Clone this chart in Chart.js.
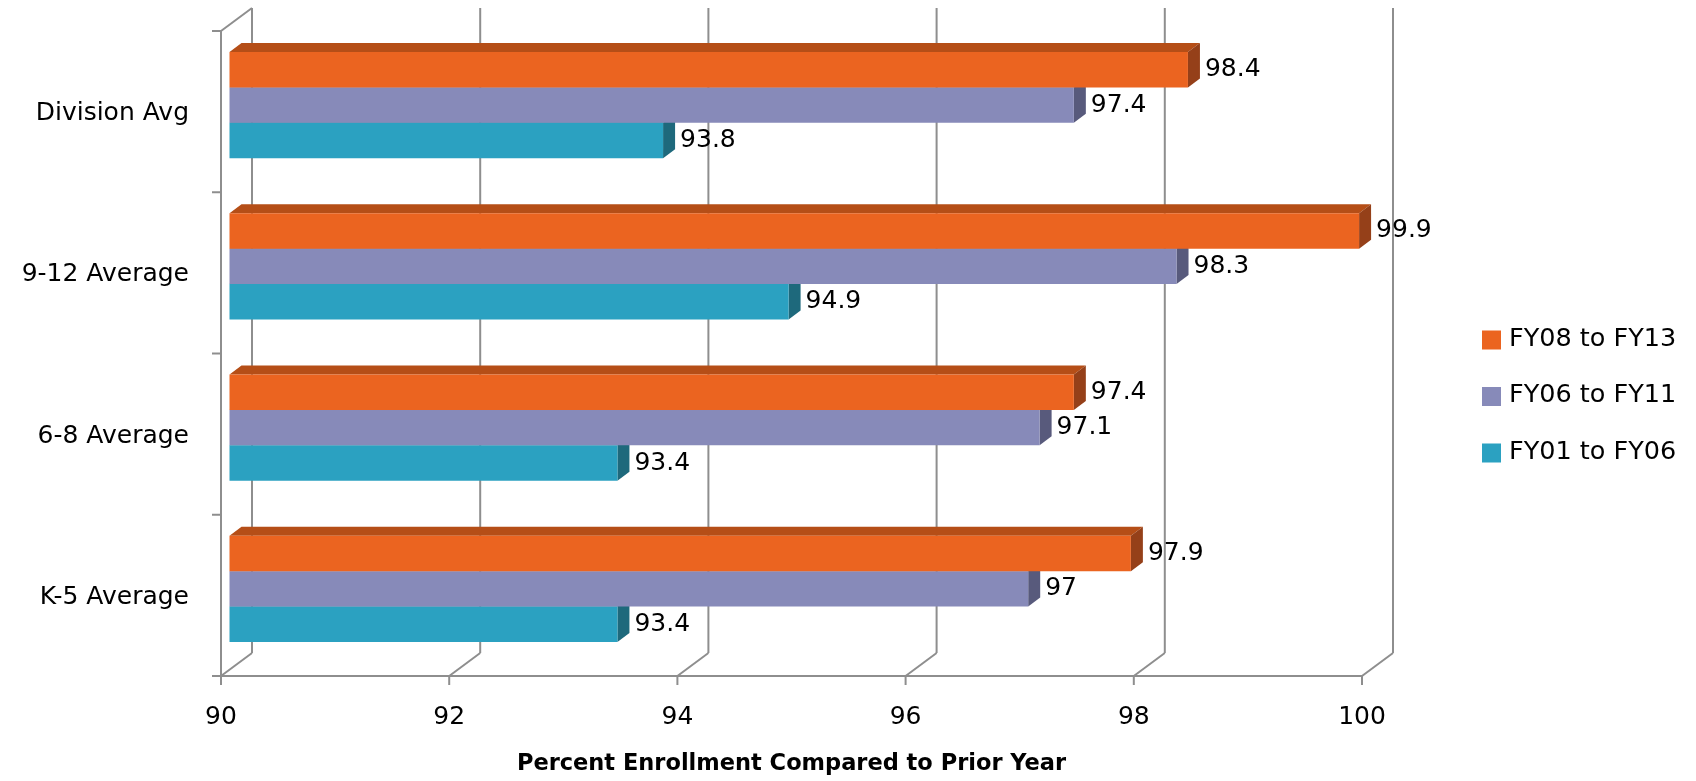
<!DOCTYPE html>
<html>
<head>
<meta charset="utf-8">
<script src="https://cdn.jsdelivr.net/npm/chart.js@4/dist/chart.umd.min.js"></script>
<style>
  html, body { margin: 0; padding: 0; background: #ffffff; }
  #wrap { width: 1696px; height: 781px; position: relative; }
</style>
</head>
<body>
<div id="wrap"><canvas id="c" width="1696" height="781"></canvas></div>
<script>
// ---- data ----
const categories = ['Division Avg', '9-12 Average', '6-8 Average', 'K-5 Average'];
const seriesNames = ['FY08 to FY13', 'FY06 to FY11', 'FY01 to FY06'];
const fy08to13 = [98.4, 99.9, 97.4, 97.9];
const fy06to11 = [97.4, 98.3, 97.1, 97];
const fy01to06 = [93.8, 94.9, 93.4, 93.4];
const xTicks = [90, 92, 94, 96, 98, 100];
const axisTitle = 'Percent Enrollment Compared to Prior Year';

// ---- styles ----
const FONT = '"DejaVu Sans", sans-serif';
const GRID = '#8e8e8e';
const faceColors = ['#EB6420', '#878AB9', '#2BA1C1'];
const topColors  = ['#B54E17', '#6B6E98', '#20829C'];
const sideColors = ['#954019', '#585A7C', '#1E697C'];
const WALL_DX = 31, WALL_DY = -23;   // depth of the 3D box
const BAR_DX = 8.5, BAR_DY = -6.5;   // bar front plane offset
const BAR_DEPTH_X = 12, BAR_DEPTH_Y = -9;

function line(ctx, x1, y1, x2, y2) {
  ctx.beginPath(); ctx.moveTo(x1, y1); ctx.lineTo(x2, y2); ctx.stroke();
}
function poly(ctx, pts, color) {
  ctx.beginPath();
  ctx.moveTo(pts[0][0], pts[0][1]);
  for (let i = 1; i < pts.length; i++) ctx.lineTo(pts[i][0], pts[i][1]);
  ctx.closePath();
  ctx.fillStyle = color; ctx.fill();
}

const box3d = {
  id: 'box3d',
  beforeDatasetsDraw(chart) {
    const { ctx, chartArea: a, scales: { x, y } } = chart;
    ctx.save();
    ctx.strokeStyle = GRID;
    ctx.lineWidth = 2;
    xTicks.forEach(v => {
      const px = x.getPixelForValue(v);
      line(ctx, px, a.bottom, px + WALL_DX, a.bottom + WALL_DY);
      line(ctx, px + WALL_DX, a.bottom + WALL_DY, px + WALL_DX, a.top + WALL_DY);
      line(ctx, px, a.bottom, px, a.bottom + 9);
    });
    line(ctx, a.left, a.top, a.left, a.bottom);
    line(ctx, a.left, a.top, a.left + WALL_DX, a.top + WALL_DY);
    line(ctx, a.left - 9, a.bottom, a.right, a.bottom);
    const n = categories.length;
    for (let i = 0; i <= n; i++) {
      const yy = a.top + i * (a.bottom - a.top) / n;
      line(ctx, a.left - 9, yy, a.left, yy);
    }
    ctx.restore();

    ctx.save();
    ctx.translate(BAR_DX, BAR_DY);
    const nd = chart.data.datasets.length;
    for (let d = nd - 1; d >= 0; d--) {
      const meta = chart.getDatasetMeta(d);
      meta.data.forEach(el => {
        const p = el.getProps(['x', 'y', 'base', 'height'], true);
        const t = p.y - p.height / 2, b = p.y + p.height / 2;
        const xl = p.base, xr = p.x;
        poly(ctx, [[xl, t], [xl + BAR_DEPTH_X, t + BAR_DEPTH_Y], [xr + BAR_DEPTH_X, t + BAR_DEPTH_Y], [xr, t]], topColors[d]);
        poly(ctx, [[xr, t], [xr + BAR_DEPTH_X, t + BAR_DEPTH_Y], [xr + BAR_DEPTH_X, b + BAR_DEPTH_Y], [xr, b]], sideColors[d]);
      });
    }
  },
  afterDatasetsDraw(chart) {
    const { ctx } = chart;
    ctx.restore();
    ctx.save();
    ctx.font = '25px ' + FONT;
    ctx.fillStyle = '#000000';
    ctx.textAlign = 'left';
    ctx.textBaseline = 'middle';
    chart.data.datasets.forEach((ds, d) => {
      const meta = chart.getDatasetMeta(d);
      meta.data.forEach((el, i) => {
        const p = el.getProps(['x', 'y'], true);
        ctx.fillText(String(ds.data[i]), p.x + BAR_DX + BAR_DEPTH_X + 5, p.y + BAR_DY);
      });
    });
    ctx.restore();
  },
  afterDraw(chart) {
    const { ctx } = chart;
    ctx.save();
    ctx.font = '25.5px ' + FONT;
    ctx.textAlign = 'left';
    ctx.textBaseline = 'middle';
    chart.data.datasets.forEach((ds, d) => {
      const cy = 340 + d * 56.5;
      ctx.fillStyle = faceColors[d];
      ctx.fillRect(1482, cy - 9.5, 19, 19);
      ctx.fillStyle = '#000000';
      ctx.fillText(ds.label, 1509, cy - 1);
    });
    ctx.restore();
  }
};

const datasets = [fy08to13, fy06to11, fy01to06].map((vals, d) => ({
  label: seriesNames[d],
  data: vals,
  base: 90,
  backgroundColor: faceColors[d],
  borderWidth: 0,
  clip: false,
  barPercentage: 1.0,
  categoryPercentage: 0.66
}));

new Chart(document.getElementById('c'), {
  type: 'bar',
  data: { labels: categories, datasets },
  options: {
    indexAxis: 'y',
    responsive: false,
    animation: false,
    events: [],
    layout: { padding: { left: 0, right: 1696 - 1362, top: 31, bottom: 0 } },
    plugins: { legend: { display: false }, tooltip: { enabled: false } },
    scales: {
      x: {
        min: 90, max: 100,
        afterBuildTicks(scale) { scale.ticks = xTicks.map(v => ({ value: v })); },
        afterFit(scale) {
          scale.height = 781 - 676;
          scale.paddingLeft = 0; scale.paddingRight = 0;
          scale.paddingTop = 0; scale.paddingBottom = 0;
        },
        grid: { display: false, drawTicks: false },
        border: { display: false },
        ticks: { font: { family: FONT, size: 25 }, color: '#000000', padding: 26, maxRotation: 0 },
        title: { display: true, text: axisTitle, color: '#000000',
                 font: { family: FONT, size: 22.5, weight: 'bold' }, padding: { top: 0, bottom: 3 } }
      },
      y: {
        afterFit(scale) {
          scale.width = 221;
          scale.paddingTop = 0; scale.paddingBottom = 0;
          scale.paddingLeft = 0; scale.paddingRight = 0;
        },
        grid: { display: false, drawTicks: false },
        border: { display: false },
        ticks: { font: { family: FONT, size: 25 }, color: '#000000', padding: 32, labelOffset: 2 }
      }
    }
  },
  plugins: [box3d]
});
</script>
</body>
</html>
